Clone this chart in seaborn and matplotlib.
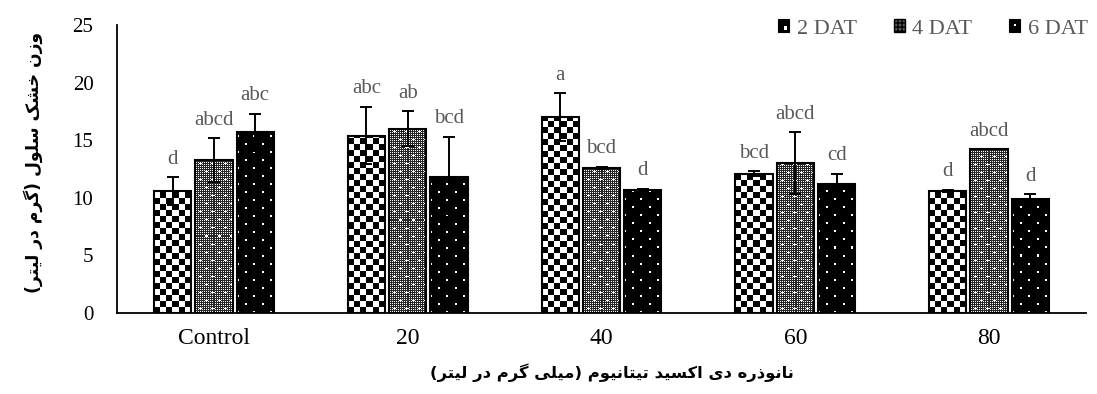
import numpy as np
import pandas as pd
import matplotlib
matplotlib.use("Agg")
import matplotlib.pyplot as plt
from matplotlib.patches import Rectangle, Patch
from matplotlib.legend_handler import HandlerBase
import seaborn as sns

# ---- data -------------------------------------------------------------
doses = ["Control", "20", "40", "60", "80"]
days = ["2 DAT", "4 DAT", "6 DAT"]

dat2 = [10.6, 15.4, 17.0, 12.1, 10.6]
dat4 = [13.3, 16.0, 12.6, 13.0, 14.2]
dat6 = [15.7, 11.8, 10.7, 11.2, 9.9]

err2 = [1.2, 2.5, 2.1, 0.2, 0.1]
err4 = [1.9, 1.5, 0.1, 2.7, 0.0]
err6 = [1.6, 3.5, 0.1, 0.9, 0.4]

letters2 = ["d", "abc", "a", "bcd", "d"]
letters4 = ["abcd", "ab", "bcd", "abcd", "abcd"]
letters6 = ["abc", "bcd", "d", "cd", "d"]

y_label_fa = "وزن خشک سلول (گرم در لیتر)"
x_label_fa = "نانوذره دی اکسید تیتانیوم (میلی گرم در لیتر)"


# ---- Persian shaping (presentation forms, visual order) ---------------
FORMS = {
    'ا': ('\uFE8D', '\uFE8E', None, None),
    'ت': ('\uFE95', '\uFE96', '\uFE97', '\uFE98'),
    'خ': ('\uFEA5', '\uFEA6', '\uFEA7', '\uFEA8'),
    'د': ('\uFEA9', '\uFEAA', None, None),
    'ذ': ('\uFEAB', '\uFEAC', None, None),
    'ر': ('\uFEAD', '\uFEAE', None, None),
    'ز': ('\uFEAF', '\uFEB0', None, None),
    'س': ('\uFEB1', '\uFEB2', '\uFEB3', '\uFEB4'),
    'ش': ('\uFEB5', '\uFEB6', '\uFEB7', '\uFEB8'),
    'ل': ('\uFEDD', '\uFEDE', '\uFEDF', '\uFEE0'),
    'م': ('\uFEE1', '\uFEE2', '\uFEE3', '\uFEE4'),
    'ن': ('\uFEE5', '\uFEE6', '\uFEE7', '\uFEE8'),
    'ه': ('\uFEE9', '\uFEEA', '\uFEEB', '\uFEEC'),
    'و': ('\uFEED', '\uFEEE', None, None),
    'ی': ('\uFBFC', '\uFBFD', '\uFBFE', '\uFBFF'),
    'ک': ('\uFB8E', '\uFB8F', '\uFB90', '\uFB91'),
    'گ': ('\uFB92', '\uFB93', '\uFB94', '\uFB95'),
}
MIRROR = {'(': ')', ')': '('}


def shape_fa(text):
    text = text.replace('ي', 'ی').replace('ك', 'ک')
    out = []
    n = len(text)
    for i, ch in enumerate(text):
        if ch not in FORMS:
            out.append(MIRROR.get(ch, ch))
            continue
        iso, fin, ini, med = FORMS[ch]
        prev = text[i - 1] if i > 0 else None
        nxt = text[i + 1] if i < n - 1 else None
        join_prev = prev in FORMS and FORMS[prev][2] is not None
        join_next = ini is not None and nxt in FORMS
        if join_prev and join_next:
            out.append(med)
        elif join_prev:
            out.append(fin)
        elif join_next:
            out.append(ini)
        else:
            out.append(iso)
    return "".join(reversed(out))


# ---- bar textures -----------------------------------------------------
def tex_checker(h, w):
    i, j = np.mgrid[0:h, 0:w]
    return (((i // 6) + (j // 6)) % 2).astype(float)


def tex_mesh(h, w):
    i, j = np.mgrid[0:h, 0:w]
    arr = np.where((i % 2 == 1) & (j % 2 == 1), 1.0, 0.15)
    dots = (i % 8 == 4) & (((j + 6 * ((i // 8) % 2)) % 12) == 5)
    arr[dots] = 1.0
    for di, dj in [(-1, 0), (1, 0), (0, -1), (0, 1)]:
        arr[np.roll(np.roll(dots, di, axis=0), dj, axis=1)] = 1.0
    return arr


def tex_dots(h, w):
    i, j = np.mgrid[0:h, 0:w]
    arr = np.zeros((h, w))
    dots = ((i % 8) < 2) & ((((j + 8 * ((i // 8) % 2)) % 16)) < 2)
    arr[dots] = 1.0
    return arr


TEXTURES = [tex_checker, tex_mesh, tex_dots]

# ---- figure -----------------------------------------------------------
sns.set_theme(style="white")
plt.rcParams['font.family'] = ['Liberation Serif', 'DejaVu Sans']

W, H = 1097, 394
fig = plt.figure(figsize=(W / 100, H / 100), dpi=100)
ax_l, ax_r, ax_t, ax_b = 117, 1086, 25, 313
ax = fig.add_axes([ax_l / W, 1 - ax_b / H, (ax_r - ax_l) / W, (ax_b - ax_t) / H])

df = pd.DataFrame({
    "dose": doses * 3,
    "day": [d for d in days for _ in doses],
    "value": dat2 + dat4 + dat6,
})

sns.barplot(data=df, x="dose", y="value", hue="day", order=doses, hue_order=days,
            palette=["white", "#808080", "black"], width=0.64, gap=0.1,
            edgecolor="black", linewidth=1.5, errorbar=None, legend=False, ax=ax)

ax.set_xlim(-0.5, 4.5)
ax.set_ylim(0, 25)

px_per_x = (ax_r - ax_l) / 5.0
px_per_y = (ax_b - ax_t) / 25.0

errs = [err2, err4, err6]
vals = [dat2, dat4, dat6]
lets = [letters2, letters4, letters6]

bar_containers = list(ax.containers)
for k, cont in enumerate(bar_containers):
    xs = []
    for bar in cont.patches:
        bar.set_facecolor("none")
        bar.set_zorder(2)
        x0 = bar.get_x()
        bw = bar.get_width()
        bh = bar.get_height()
        wpx = max(int(round(bw * px_per_x)), 1)
        hpx = max(int(round(bh * px_per_y)), 1)
        arr = TEXTURES[k](hpx, wpx)
        im = ax.imshow(arr, cmap="gray", vmin=0, vmax=1, extent=(x0, x0 + bw, 0, bh),
                       aspect="auto", interpolation="nearest", origin="lower", zorder=1)
        im.set_clip_path(bar)
        xs.append(x0 + bw / 2)
    ax.errorbar(xs, vals[k], yerr=errs[k], fmt="none", ecolor="black",
                elinewidth=1.4, capsize=4.0, capthick=1.4, zorder=3)
    for x, v, e, t in zip(xs, vals[k], errs[k], lets[k]):
        ax.annotate(t, xy=(x, v + e), xytext=(0, 6), textcoords="offset points",
                    ha="center", va="bottom", fontsize=15, color="#595959")

ax.set_xlim(-0.5, 4.5)
ax.set_ylim(0, 25)
ax.set_yticks([0, 5, 10, 15, 20, 25])
ax.set_xlabel("")
ax.set_ylabel("")
ax.tick_params(axis="y", length=0, pad=17, labelsize=15, labelcolor="black")
ax.tick_params(axis="x", length=0, pad=11, labelsize=17, labelcolor="black")
for s in ["top", "right"]:
    ax.spines[s].set_visible(False)
for s in ["left", "bottom"]:
    ax.spines[s].set_color("black")
    ax.spines[s].set_linewidth(1.3)

fig.text(33 / W, 1 - 162 / H, shape_fa(y_label_fa), rotation=90, ha="center", va="center",
         fontsize=12.3, fontweight="bold", family=["DejaVu Sans"], color="black")
fig.text(612 / W, 1 - 373 / H, shape_fa(x_label_fa), ha="center", va="center",
         fontsize=11.8, fontweight="bold", family=["DejaVu Sans"], color="black")


# ---- legend with small textured squares --------------------------------
class SwatchHandler(HandlerBase):
    def __init__(self, kind):
        super().__init__()
        self.kind = kind

    def create_artists(self, legend, orig_handle, xdescent, ydescent, width, height,
                       fontsize, trans):
        x0, y0 = -xdescent, -ydescent
        arts = []
        if self.kind == 0:
            arts.append(Rectangle((x0, y0), width, height, facecolor="black",
                                  edgecolor="black", lw=0.8, transform=trans))
            arts.append(Rectangle((x0 + width * 0.5, y0 + height * 0.15), width * 0.35,
                                  height * 0.35, facecolor="white", lw=0, transform=trans))
        elif self.kind == 1:
            arts.append(Rectangle((x0, y0), width, height, facecolor="#5a5a5a",
                                  edgecolor="black", lw=1.0, hatch="++++", transform=trans))
        else:
            arts.append(Rectangle((x0, y0), width, height, facecolor="black",
                                  edgecolor="black", lw=0.8, transform=trans))
            arts.append(Rectangle((x0 + width * 0.42, y0 + height * 0.45), width * 0.16,
                                  height * 0.16, facecolor="white", lw=0, transform=trans))
        return arts


handles = [Patch(label=d) for d in days]
leg = fig.legend(handles=handles, labels=days, loc="center right",
                 bbox_to_anchor=(1088 / W, 1 - 29 / H), ncol=3, frameon=False,
                 fontsize=16, handlelength=0.5, handleheight=0.5, handletextpad=0.35,
                 columnspacing=1.65, borderaxespad=0, borderpad=0,
                 handler_map={handles[i]: SwatchHandler(i) for i in range(3)})
for t in leg.get_texts():
    t.set_color("#595959")

fig.savefig("out.png", dpi=100)
